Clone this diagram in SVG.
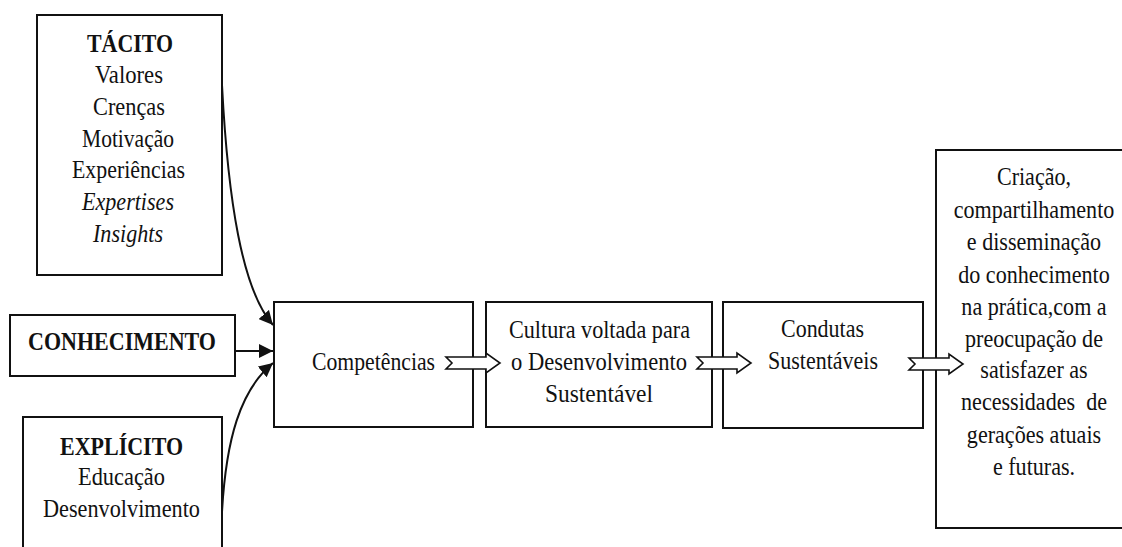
<svg xmlns="http://www.w3.org/2000/svg" width="1122" height="547" viewBox="0 0 1122 547">
<style>
.box{fill:#fff;stroke:#111;stroke-width:2}
.t{font-family:"Liberation Serif","Times New Roman",serif;font-size:26px;fill:#111}
.b{font-weight:bold}
.i{font-style:italic}
.m{text-anchor:middle}
.con{fill:none;stroke:#111;stroke-width:2}
.blk{fill:#fff;stroke:#111;stroke-width:1.6;stroke-linejoin:miter}
</style>
<defs>
<marker id="ah" markerUnits="userSpaceOnUse" markerWidth="16" markerHeight="14" refX="14" refY="7" orient="auto">
<path d="M0,0 L14,7 L0,14 Z" fill="#111"/>
</marker>
<path id="blockArrow" d="M0,-6 L40,-6 L40,-10 L54,0 L40,10 L40,6 L0,6 L6,0 Z"/>
</defs>
<rect width="1122" height="547" fill="#fff"/>

<g id="tacito">
<rect class="box" x="37" y="15" width="185" height="260"/>
<text class="t b" x="87" y="52" textLength="86" lengthAdjust="spacingAndGlyphs">TÁCITO</text>
<text class="t" x="95" y="83" textLength="68" lengthAdjust="spacingAndGlyphs">Valores</text>
<text class="t" x="93" y="115" textLength="72" lengthAdjust="spacingAndGlyphs">Crenças</text>
<text class="t" x="82" y="147" textLength="92" lengthAdjust="spacingAndGlyphs">Motivação</text>
<text class="t" x="72" y="178" textLength="113" lengthAdjust="spacingAndGlyphs">Experiências</text>
<text class="t i" x="82" y="210" textLength="92" lengthAdjust="spacingAndGlyphs">Expertises</text>
<text class="t i" x="93" y="242" textLength="70" lengthAdjust="spacingAndGlyphs">Insights</text>
</g>

<g id="conhecimento">
<rect class="box" x="10" y="315" width="225" height="61"/>
<text class="t b" x="28" y="350" textLength="188" lengthAdjust="spacingAndGlyphs">CONHECIMENTO</text>
</g>

<g id="explicito">
<path class="box" d="M23,560 L23,417 L222,417 L222,560"/>
<text class="t b" x="60" y="455" textLength="123" lengthAdjust="spacingAndGlyphs">EXPLÍCITO</text>
<text class="t" x="78" y="485" textLength="87" lengthAdjust="spacingAndGlyphs">Educação</text>
<text class="t" x="43" y="517" textLength="157" lengthAdjust="spacingAndGlyphs">Desenvolvimento</text>
</g>

<g id="competencias">
<rect class="box" x="274" y="302" width="199" height="125"/>
<text class="t" x="312" y="370" textLength="123" lengthAdjust="spacingAndGlyphs">Competências</text>
</g>

<g id="cultura">
<rect class="box" x="486" y="302" width="226" height="125"/>
<text class="t" x="509" y="338" textLength="181" lengthAdjust="spacingAndGlyphs">Cultura voltada para</text>
<text class="t" x="511" y="370" textLength="176" lengthAdjust="spacingAndGlyphs">o Desenvolvimento</text>
<text class="t" x="545" y="402" textLength="108" lengthAdjust="spacingAndGlyphs">Sustentável</text>
</g>

<g id="condutas">
<rect class="box" x="723" y="302" width="200" height="126"/>
<text class="t" x="781" y="337" textLength="83" lengthAdjust="spacingAndGlyphs">Condutas</text>
<text class="t" x="768" y="369" textLength="110" lengthAdjust="spacingAndGlyphs">Sustentáveis</text>
</g>

<g id="resultado">
<path class="box" d="M1122,150 L936,150 L936,528 L1122,528"/>
<g transform="matrix(0.85,0,0,1,1034,0)">
<text class="t m" x="0" y="185">Criação,</text>
<text class="t m" x="0" y="218">compartilhamento</text>
<text class="t m" x="0" y="250">e disseminação</text>
<text class="t m" x="0" y="283">do conhecimento</text>
<text class="t m" x="0" y="315">na prática,com a</text>
<text class="t m" x="0" y="347">preocupação de</text>
<text class="t m" x="0" y="378">satisfazer as</text>
<text class="t m" x="0" y="410" xml:space="preserve">necessidades  de</text>
<text class="t m" x="0" y="443">gerações atuais</text>
<text class="t m" x="0" y="475">e futuras.</text>
</g>
</g>

<g id="connectors">
<path class="con" d="M222,85 C228,200 242,290 273,325" marker-end="url(#ah)"/>
<path class="con" d="M235,351 L273,351" marker-end="url(#ah)"/>
<path class="con" d="M222,512 C226,440 240,390 273,363" marker-end="url(#ah)"/>
<use href="#blockArrow" class="blk" transform="translate(446,363)"/>
<use href="#blockArrow" class="blk" transform="translate(697,363)"/>
<use href="#blockArrow" class="blk" transform="translate(909,364)"/>
</g>
</svg>
